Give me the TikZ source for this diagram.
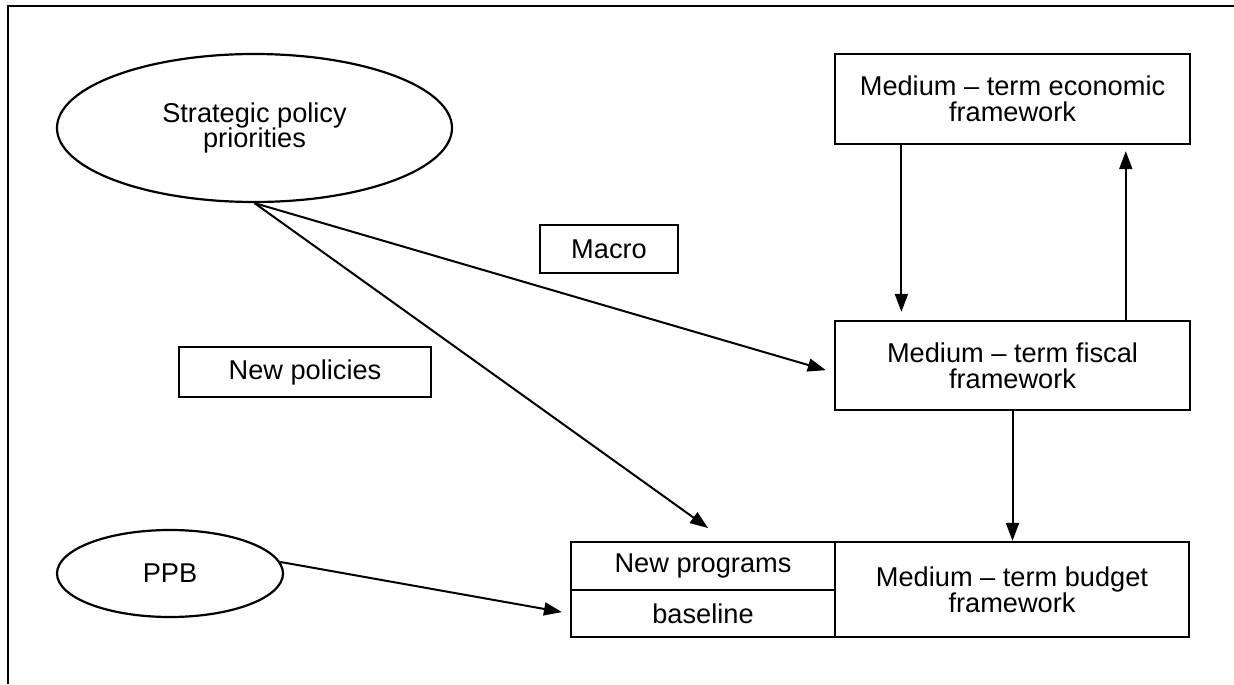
\documentclass[tikz,border=0pt]{standalone}
\usepackage{fontspec}
\setmainfont{Liberation Sans}
\usetikzlibrary{shapes.geometric,arrows.meta,calc}

\tikzset{
  txt/.style={font=\fontsize{13.6pt}{12.8pt}\selectfont, align=center, inner sep=0pt},
  oval/.style={txt, draw, ellipse, line width=1.1pt},
  panel/.style={txt, draw, rectangle, line width=1.15pt},
  link/.style={line width=1pt, -{Triangle[length=9pt,width=6.5pt]}},
  frame/.style={line width=1.4pt}
}

\begin{document}
\begin{tikzpicture}[x=0.5pt, y=-0.5pt]
  \useasboundingbox (0,0) rectangle (1234,684);

  % outer frame (top and left edges)
  \draw[frame] (8,684) -- (8,6) -- (1234,6);

  % ovals
  \node[oval, minimum width=197.5pt, minimum height=74pt] (sp) at (254.5,128) {Strategic policy\\priorities};
  \node[oval, minimum width=113pt, minimum height=43.5pt] (ppb) at (170,573.5) {PPB};

  % right-hand frameworks
  \node[panel, minimum width=177.5pt, minimum height=45pt] (econ) at (1012.5,99) {Medium -- term economic\\framework};
  \node[panel, minimum width=177.5pt, minimum height=44.5pt] (fiscal) at (1012.5,365.5) {Medium -- term fiscal\\framework};
  \node[panel, minimum width=177pt, minimum height=47.5pt] (budget) at (1012,589.5) {Medium -- term budget\\framework};

  % split box to the left of the budget framework
  \node[panel, minimum width=132pt, minimum height=24pt] (newp) at (703,566) {New programs};
  \node[panel, minimum width=132pt, minimum height=23.5pt] (base) at (703,613.5) {baseline};

  % labels
  \node[panel, minimum width=69pt, minimum height=24pt] (macro) at (609,249) {Macro};
  \node[panel, minimum width=126pt, minimum height=25pt] (newpol) at (305,372) {New policies};

  % vertical links between frameworks
  \coordinate (dn) at ($(econ.south west)!0.189!(econ.south east)$);
  \coordinate (up) at ($(fiscal.north west)!0.817!(fiscal.north east)$);
  \draw[link, shorten >=4pt] (dn) -- (dn |- fiscal.north);
  \draw[link, shorten >=3pt] (up) -- (up |- econ.south);
  \draw[link] (fiscal.south) -- (fiscal.south |- budget.north);

  % links from the ovals
  \draw[link, shorten >=4.2pt] (sp.south) -- ($(fiscal.west)+(0,7)$);
  \draw[link, shorten >=11pt] (sp.south) -- ($(newp.north)+(23,0)$);
  \draw[link, shorten >=4pt] (ppb.6) -- (base.west);
\end{tikzpicture}
\end{document}
